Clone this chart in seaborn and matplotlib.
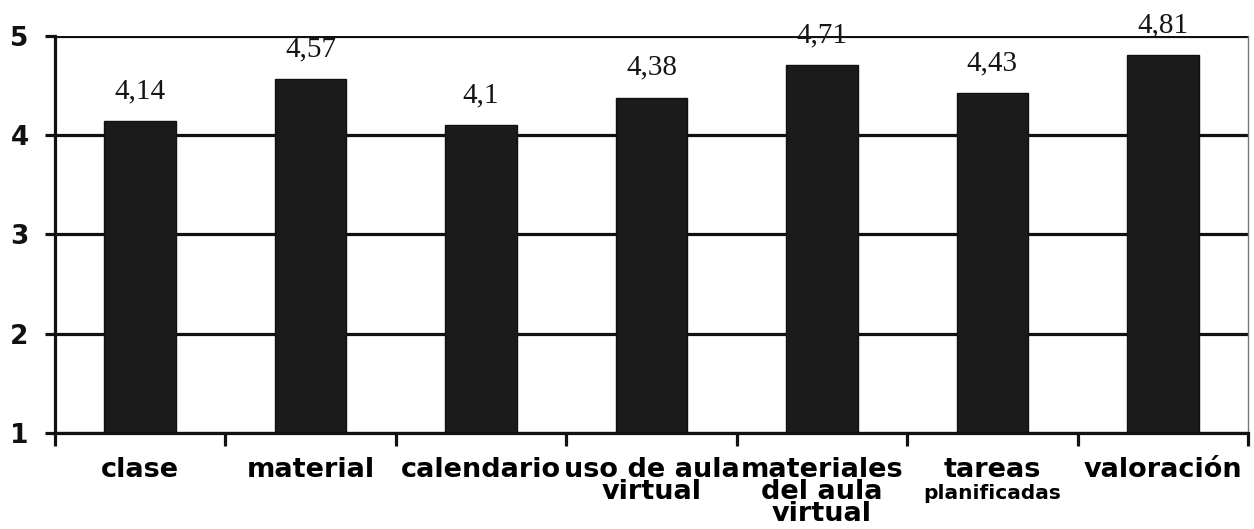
import matplotlib
matplotlib.use("Agg")
import matplotlib.pyplot as plt
import seaborn as sns
import pandas as pd

categories = ["clase", "material", "calendario", "uso de aula\nvirtual",
              "materiales\ndel aula\nvirtual", "tareas\nplanificadas", "valoración"]
scores = [4.14, 4.57, 4.1, 4.38, 4.71, 4.43, 4.81]
y_ticks = [1, 2, 3, 4, 5]

df = pd.DataFrame({"categoria": categories, "valor": scores})

sns.set_theme(style="white")
plt.rcParams["font.family"] = ["DejaVu Sans"]

fig = plt.figure(figsize=(12.54, 5.29), dpi=100)
ax = fig.add_axes([0.0439, 0.1815, 0.9513, 0.7505])

ink = "#1b1b1b"

# horizontal grid lines behind the bars
for t in y_ticks:
    ax.axhline(t, color="#111111", lw=2.3, zorder=0)

sns.barplot(data=df, x="categoria", y="valor", color=ink, width=0.42,
            saturation=1, edgecolor="#111111", linewidth=1, ax=ax, zorder=2)

ax.set_ylim(1, 5)
ax.set_xlim(-0.5, len(categories) - 0.5)
ax.set_xlabel("")
ax.set_ylabel("")

# value labels above bars
for i, v in enumerate(scores):
    txt = f"{v:g}".replace(".", ",")
    ax.annotate(txt, (i, v), xytext=(0, 12), textcoords="offset points",
                ha="center", va="bottom", fontsize=21,
                family=["Liberation Serif", "DejaVu Serif"], color="#151515")

# spines
ax.spines["top"].set_visible(False)
ax.spines["left"].set_linewidth(2.3)
ax.spines["left"].set_color("#111111")
ax.spines["bottom"].set_linewidth(2.3)
ax.spines["bottom"].set_color("#111111")
ax.spines["right"].set_linewidth(1.0)
ax.spines["right"].set_color("#777777")

# y axis ticks
ax.set_yticks(y_ticks)
ax.set_yticklabels([str(t) for t in y_ticks], fontsize=19, fontweight="bold",
                   color="#111111")
ax.tick_params(axis="y", which="major", direction="out", length=7, width=2.3,
               color="#111111", pad=12, left=True)

# x axis: category boundaries as ticks, labels at centres
ax.set_xticks([i - 0.5 for i in range(len(categories) + 1)], minor=True)
ax.tick_params(axis="x", which="minor", direction="out", length=9, width=2.3,
               color="#111111", bottom=True)
ax.set_xticks(range(len(categories)))
labels = [c.split("\n")[0] if c.startswith("tareas") else c for c in categories]
ax.set_xticklabels(labels, fontsize=19.5, fontweight="bold", color="black",
                   linespacing=0.82)
ax.tick_params(axis="x", which="major", length=0, pad=17)

# smaller second line for the "tareas" category
for i, c in enumerate(categories):
    if c.startswith("tareas"):
        ax.annotate(c.split("\n")[1], (i, 1), xytext=(0, -37),
                    textcoords="offset points", ha="center", va="top",
                    fontsize=14.5, fontweight="bold", color="black",
                    annotation_clip=False)

fig.savefig("out.png", dpi=100, facecolor="white")
